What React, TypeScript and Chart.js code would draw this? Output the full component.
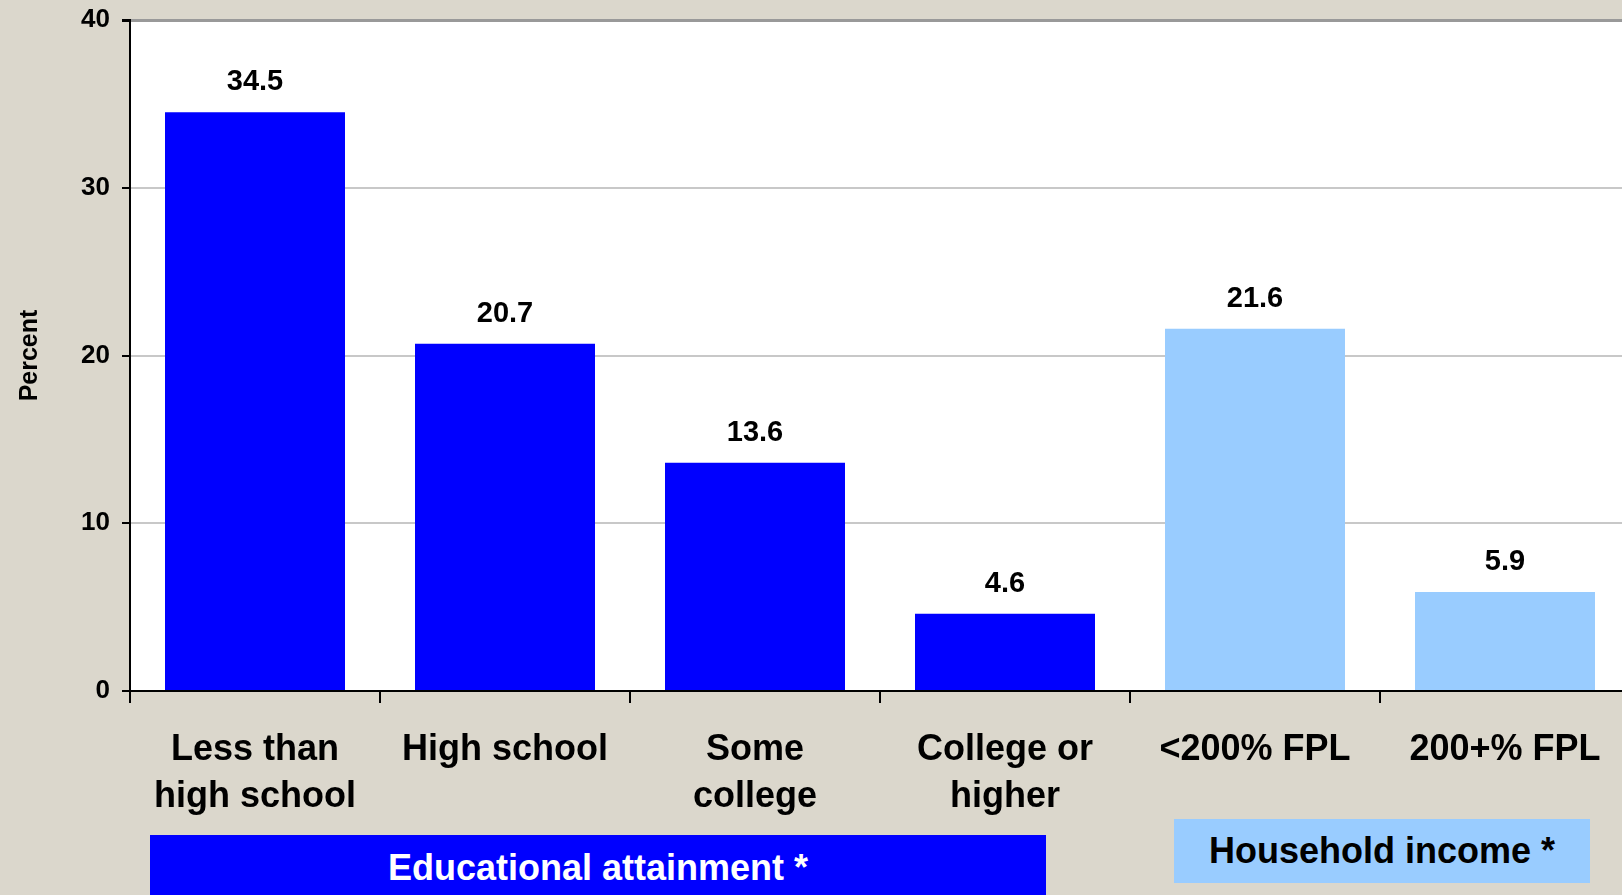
import React, { useEffect, useRef } from "react";
import { Chart, registerables } from "chart.js";

Chart.register(...registerables);

const categories: (string | string[])[] = [
  ["Less than", "high school"],
  "High school",
  ["Some", "college"],
  ["College or", "higher"],
  "<200% FPL",
  "200+% FPL",
];
const values = [34.5, 20.7, 13.6, 4.6, 21.6, 5.9];
const barColors = ["#0000FF", "#0000FF", "#0000FF", "#0000FF", "#99CCFF", "#99CCFF"];
const yTicks = [0, 10, 20, 30, 40];
const yTitle = "Percent";
const groupLabels = ["Educational attainment *", "Household income *"];

const FONT = "'Liberation Sans', Arial, Helvetica, sans-serif";
const BG = "rgb(219,215,204)";

const plotBg = {
  id: "plotBg",
  beforeDraw(chart: any) {
    const { ctx, chartArea } = chart;
    ctx.save();
    ctx.fillStyle = "#FFFFFF";
    ctx.fillRect(chartArea.left, chartArea.top, chartArea.right - chartArea.left, chartArea.bottom - chartArea.top);
    ctx.restore();
  },
};

const valueLabels = {
  id: "valueLabels",
  afterDatasetsDraw(chart: any) {
    const { ctx } = chart;
    const meta = chart.getDatasetMeta(0);
    ctx.save();
    ctx.font = `bold 29px ${FONT}`;
    ctx.fillStyle = "#000";
    ctx.textAlign = "center";
    ctx.textBaseline = "middle";
    meta.data.forEach((bar: any, i: number) => {
      ctx.fillText(String(values[i].toFixed(1)), bar.x, bar.y - 30);
    });
    ctx.restore();
  },
};

export default function App() {
  const ref = useRef<HTMLCanvasElement | null>(null);

  useEffect(() => {
    document.body.style.margin = "0";
    document.body.style.overflow = "hidden";
    document.body.style.background = BG;
    const chart = new Chart(ref.current as HTMLCanvasElement, {
      type: "bar",
      data: {
        labels: categories,
        datasets: [
          {
            data: values,
            backgroundColor: barColors,
            borderWidth: 0,
            barPercentage: 0.72,
            categoryPercentage: 1,
          },
        ],
      },
      plugins: [plotBg, valueLabels],
      options: {
        animation: false,
        responsive: false,
        maintainAspectRatio: false,
        layout: { padding: { top: 20, right: 10, bottom: 0, left: 0 } },
        plugins: {
          legend: { display: false },
          tooltip: { enabled: false },
        },
        scales: {
          x: {
            offset: true,
            afterFit: (s: any) => {
              s.height = 204;
            },
            grid: {
              offset: true,
              drawOnChartArea: false,
              color: "#000",
              tickColor: "#000",
              tickLength: 12,
              lineWidth: 2,
            },
            border: { color: "#000", width: 2 },
            ticks: {
              color: "#000",
              padding: 24,
              maxRotation: 0,
              autoSkip: false,
              font: { family: FONT, size: 36, weight: "bold", lineHeight: 1.3 },
            },
          },
          y: {
            min: 0,
            max: 40,
            afterFit: (s: any) => {
              s.width = 130;
              s.paddingTop = 0;
              s.paddingBottom = 0;
            },
            afterBuildTicks: (s: any) => {
              s.ticks = yTicks.map((v) => ({ value: v }));
            },
            grid: {
              color: (c: any) => (c.tick && c.tick.value === 40 ? "#999999" : "#C8C8C8"),
              lineWidth: (c: any) => (c.tick && c.tick.value === 40 ? 3 : 2),
              tickColor: "#000",
              tickLength: 8,
            },
            border: { color: "#000", width: 2 },
            ticks: {
              color: "#000",
              padding: 12,
              font: { family: FONT, size: 26, weight: "bold" },
            },
            title: {
              display: true,
              text: yTitle,
              color: "#000",
              padding: { top: 15, bottom: 0 },
              font: { family: FONT, size: 25, weight: "bold" },
            },
          },
        },
      },
    });
    return () => chart.destroy();
  }, []);

  const boxBase: React.CSSProperties = {
    position: "absolute",
    display: "flex",
    alignItems: "center",
    justifyContent: "center",
    fontFamily: FONT,
    fontWeight: "bold",
    fontSize: 36,
  };

  return (
    <div style={{ position: "relative", width: 1640, height: 895, background: BG, overflow: "hidden" }}>
      <canvas ref={ref} width={1640} height={895} style={{ display: "block", width: 1640, height: 895 }} />
      <div
        style={{
          ...boxBase,
          left: 150,
          top: 835,
          width: 896,
          height: 66,
          background: "#0000FF",
          color: "#FFFFFF",
          paddingBottom: 2,
        }}
      >
        {groupLabels[0]}
      </div>
      <div
        style={{
          ...boxBase,
          left: 1174,
          top: 819,
          width: 416,
          height: 64,
          background: "#99CCFF",
          color: "#000000",
        }}
      >
        {groupLabels[1]}
      </div>
    </div>
  );
}
